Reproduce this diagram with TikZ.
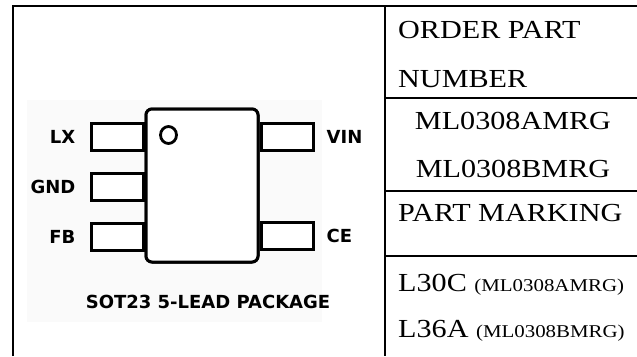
\documentclass[tikz,border=0pt]{standalone}
\usepackage{fontspec}
\setmainfont{Liberation Serif}
\newfontfamily\tabfont[FakeStretch=1.16]{Liberation Serif}
\newfontfamily\pinfont{DejaVu Sans}
\usetikzlibrary{positioning}

\begin{document}
\begin{tikzpicture}[
    x=1pt, y=-1pt,
    chip/.style={draw, line width=3pt, fill=white, rounded corners=6pt, minimum width=112pt, minimum height=153pt, inner sep=0pt},
    pinbox/.style={draw, line width=3pt, fill=white, minimum width=52pt, minimum height=27pt, inner sep=0pt},
    pinlabel/.style={font=\pinfont\bfseries\fontsize{18}{20}\selectfont, inner sep=0pt},
    cell/.style={font=\tabfont\fontsize{26}{28}\selectfont, inner sep=0pt, anchor=base west},
    rule/.style={line width=2.4pt}
]
\useasboundingbox (0,0) rectangle (637,356);
\fill[black!2] (27,100) rectangle (322,322);

% package outline
\node[chip] (chip) at (202,185.5) {};
\node[pinbox, anchor=east] (lx) at (chip.west |- 0,136.5) {};
\node[pinbox, anchor=east] (gnd) at (chip.west |- 0,186.5) {};
\node[pinbox, anchor=east] (fb) at (chip.west |- 0,236.5) {};
\node[pinbox, anchor=west] (vin) at (chip.east |- 0,136.5) {};
\node[pinbox, anchor=west] (ce) at (chip.east |- 0,235.5) {};
\node[chip] at (chip) {};
\draw[line width=2.8pt] (168.5,135) ellipse [x radius=8, y radius=8.5];

\node[pinlabel, left=14pt of lx] (lxlabel) {LX};
\node[pinlabel, left=14pt of gnd] (gndlabel) {GND};
\node[pinlabel, left=14pt of fb] (fblabel) {FB};
\node[pinlabel, right=12pt of vin] (vinlabel) {VIN};
\node[pinlabel, right=12pt of ce] (celabel) {CE};
\node[pinlabel] (caption) at (208,302) {SOT23 5-LEAD PACKAGE};

% table frame
\draw[line width=2pt] (12.5,356) -- (12.5,6) -- (637,6);
\draw[rule] (385,6) -- (385,356);
\draw[rule] (385,98) -- (637,98);
\draw[rule] (385,191) -- (637,191);
\draw[rule] (385,256) -- (637,256);

\node[cell] (order) at (398,38) {ORDER PART};
\node[cell] (number) at (398,87) {NUMBER};
\node[cell, anchor=base] (partA) at (513,129) {ML0308AMRG};
\node[cell, anchor=base] (partB) at (513,177) {ML0308BMRG};
\node[cell] (marking) at (398,221) {PART MARKING};
\node[cell] (markA) at (398,291) {L30C {\fontsize{18}{20}\selectfont(ML0308AMRG)}};
\node[cell] (markB) at (398,337) {L36A {\fontsize{18}{20}\selectfont(ML0308BMRG)}};
\end{tikzpicture}
\end{document}
